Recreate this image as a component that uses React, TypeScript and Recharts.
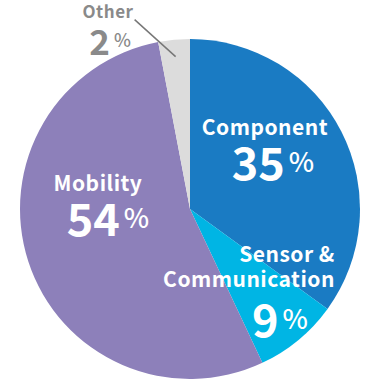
import React from 'react';
import { PieChart, Pie, Cell } from 'recharts';

// slice sizes (printed labels differ a little)
const categories = ['Component', 'Sensor & Communication', 'Mobility', 'Other'];
const shares = [35, 8, 54, 3];
const printedPct = ['35', '9', '54', '2'];
const nameLines = [['Component'], ['Sensor &', 'Communication'], ['Mobility'], ['Other']];

const COLORS = ['#1a7bc3', '#00b5e4', '#8d80ba', '#dcdcdc'];
const FONT = '"Noto Sans CJK JP", "Source Sans Pro", "Noto Sans", sans-serif';

const data = categories.map((name, i) => ({ name, value: shares[i] }));

// label block placement: radius factor + offsets of name lines and number
const LAYOUT = [
  { rf: 0.6, names: [[-16, -37]], num: [-8, -3], color: '#fff', nameSize: 21, numSize: 45, pctSize: 27 },
  { rf: 0.6, names: [[32, -35], [-6, -10]], num: [25, 29], color: '#fff', nameSize: 21, numSize: 45, pctSize: 27 },
  { rf: 0.6, names: [[5, -59]], num: [15, -25], color: '#fff', nameSize: 21, numSize: 45, pctSize: 27 },
  { rf: 1.0, names: [[-66, -29]], num: [-64, -1], color: '#8a8a8a', nameSize: 17, numSize: 35, pctSize: 18 },
];

const RAD = Math.PI / 180;

const renderLabel = (props: any) => {
  const { cx, cy, midAngle, outerRadius, index } = props;
  const l = LAYOUT[index];
  const ax = cx + Math.cos(-midAngle * RAD) * outerRadius * l.rf;
  const ay = cy + Math.sin(-midAngle * RAD) * outerRadius * l.rf;
  const sx = cx + Math.cos(-midAngle * RAD) * outerRadius * 0.9;
  const sy = cy + Math.sin(-midAngle * RAD) * outerRadius * 0.9;
  return (
    <g key={`lbl-${index}`}>
      {index === 3 && (
        <line x1={sx} y1={sy} x2={sx - 41} y2={sy - 37} stroke="#777" strokeWidth={1.5} />
      )}
      {nameLines[index].map((t, k) => (
        <text
          key={k}
          x={ax + l.names[k][0]}
          y={ay + l.names[k][1]}
          textAnchor="middle"
          dominantBaseline="central"
          fill={l.color}
          fontFamily={FONT}
          fontWeight={700}
          fontSize={l.nameSize}
          letterSpacing={0.5}
        >
          {t}
        </text>
      ))}
      <text
        x={ax + l.num[0]}
        y={ay + l.num[1]}
        textAnchor="middle"
        dominantBaseline="central"
        fill={l.color}
        fontFamily={FONT}
        fontWeight={700}
      >
        <tspan fontSize={l.numSize}>{printedPct[index]}</tspan>
        <tspan fontSize={l.pctSize} fontWeight={500} dx={4}>%</tspan>
      </text>
    </g>
  );
};

export default function App() {
  return (
    <div style={{ position: 'absolute', left: 0, top: 0, width: 379, height: 379 }}>
      <PieChart width={379} height={379} margin={{ top: 0, right: 0, bottom: 0, left: 0 }}>
        <Pie
          data={data}
          dataKey="value"
          cx={190}
          cy={209}
          outerRadius={170}
          startAngle={90}
          endAngle={-270}
          stroke="none"
          label={renderLabel}
          labelLine={false}
          isAnimationActive={false}
        >
          {data.map((d, i) => (
            <Cell key={d.name} fill={COLORS[i]} />
          ))}
        </Pie>
      </PieChart>
    </div>
  );
}
